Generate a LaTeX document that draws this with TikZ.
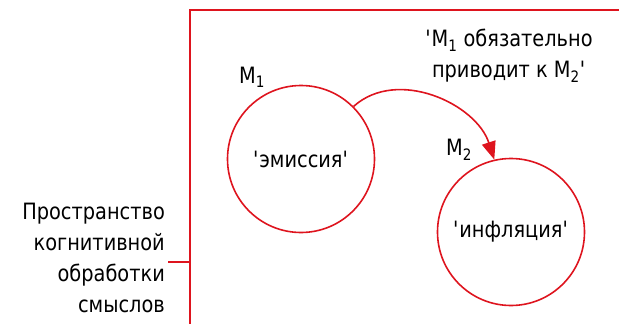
\documentclass[tikz,border=0pt]{standalone}
\usepackage{fontspec}
\setmainfont{DejaVu Sans}[FakeStretch=0.86]
\usetikzlibrary{arrows.meta}
\definecolor{lred}{RGB}{222,20,30}
\tikzset{
  circ/.style={circle, draw=lred, line width=1.6pt, minimum size=147pt, inner sep=0pt},
  lbl/.style={font=\fontsize{22.5}{31}\selectfont, inner sep=0pt},
  frame/.style={draw=lred, line width=1.6pt},
  arr/.style={draw=lred, line width=1.6pt, -{Triangle[length=18pt,width=14pt]}}
}
\newcommand{\sq}{\textquotesingle}
\begin{document}
\begin{tikzpicture}[x=1pt,y=-1pt]
\useasboundingbox (0,0) rectangle (619,324);
% frame
\draw[frame] (619,10) -- (190,10) -- (190,324);
\coordinate (tick) at (190,262);
% left label
\node[lbl, align=right, anchor=east] (space) at (165,258)
  {Пространство\\когнитивной\\обработки\\смыслов};
\draw[frame] (168,262) -- (tick);
% circles
\node[circ, lbl] (c1) at (301,159) {\sq эмиссия\sq};
\node[circ, lbl] (c2) at (511,232) {\sq инфляция\sq};
\node[lbl] (m1) at (252,77) {M\textsubscript{1}};
\node[lbl] (m2) at (459,150) {M\textsubscript{2}};
\node[lbl, align=center] (rel) at (509,56) {\sq M\textsubscript{1} обязательно\\приводит к M\textsubscript{2}\sq};
\draw[arr] (c1.45) to[out=42,in=108] (c2.103);
\end{tikzpicture}
\end{document}
